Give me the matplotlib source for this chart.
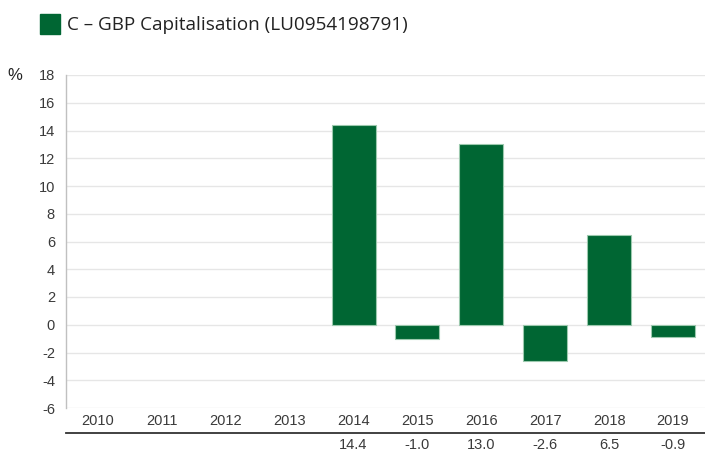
import matplotlib
matplotlib.use("Agg")
import matplotlib.pyplot as plt
from matplotlib.lines import Line2D
from matplotlib.patches import Rectangle
import matplotlib.transforms as mtransforms

years = ["2010", "2011", "2012", "2013", "2014", "2015", "2016", "2017", "2018", "2019"]
values = [None, None, None, None, 14.4, -1.0, 13.0, -2.6, 6.5, -0.9]
series_name = "C – GBP Capitalisation (LU0954198791)"
yticks = [-6, -4, -2, 0, 2, 4, 6, 8, 10, 12, 14, 16, 18]

green = "#006633"
tcol = "#3a3a3a"
fs = 10.5

fig = plt.figure(figsize=(7.05, 4.54), dpi=100)
ax = fig.add_axes([66/705, 1-408/454, 639/705, (408-75)/454])

xs = [i for i, v in enumerate(values) if v is not None]
vs = [v for v in values if v is not None]
ax.bar(xs, vs, width=0.69, color=green, edgecolor="#9cc9ae", linewidth=0.8, zorder=3)

ax.set_xlim(-0.5, len(years) - 0.5)
ax.set_ylim(-6, 18)
ax.set_yticks(yticks)
ax.set_yticklabels([str(t) for t in yticks], fontsize=fs, family="Liberation Sans", color=tcol)
ax.set_xticks(range(len(years)))
ax.set_xticklabels(years, fontsize=fs, family="Liberation Sans", color=tcol)
ax.tick_params(axis="both", length=0)
ax.tick_params(axis="y", pad=8)
ax.tick_params(axis="x", pad=4)
ax.grid(axis="y", color="#e6e6e6", linewidth=1, zorder=0)
for s in ["top", "right", "bottom"]:
    ax.spines[s].set_visible(False)
ax.spines["left"].set_color("#c0c0c0")
ax.spines["left"].set_linewidth(1)

# table line and values row
trans = mtransforms.blended_transform_factory(ax.transData, fig.transFigure)
fig.add_artist(Line2D([66/705, 1.0], [1-432.5/454, 1-432.5/454], color="#333333", linewidth=1.3, transform=fig.transFigure))
for i, v in enumerate(values):
    if v is not None:
        fig.text(i, 1-445/454, f"{v:.1f}", transform=trans, ha="center", va="center",
                 fontsize=fs, family="Liberation Sans", color=tcol)

# percent label
fig.text(15/705, 1-75/454, "%", ha="center", va="center", fontsize=12, family="Liberation Sans", color="#222222")

# legend
fig.add_artist(Rectangle((40/705, 1-34/454), 20/705, 20/454, transform=fig.transFigure, color=green))
fig.text(67/705, 1-25/454, series_name, ha="left", va="center", fontsize=13.6, family="Open Sans", color="#222222")

fig.savefig("out.png", dpi=100)
